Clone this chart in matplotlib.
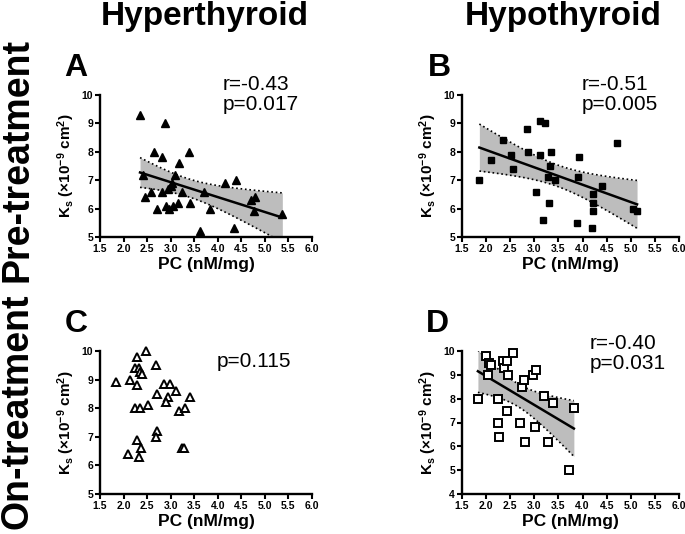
import numpy as np
import matplotlib
matplotlib.use("Agg")
import matplotlib.pyplot as plt

plt.rcParams['font.family'] = ['Liberation Sans', 'DejaVu Sans']
plt.rcParams['font.weight'] = 'bold'
plt.rcParams['mathtext.fontset'] = 'custom'
plt.rcParams['mathtext.rm'] = 'Liberation Sans:bold'
plt.rcParams['mathtext.bf'] = 'Liberation Sans:bold'
plt.rcParams['mathtext.default'] = 'rm'

# panel A: hyperthyroid, pre-treatment
a_pc = [2.35, 2.88, 2.65, 2.81, 3.38, 3.17, 2.42, 3.10, 2.46, 2.58, 2.72, 2.81,
        2.90, 2.95, 2.97, 3.00, 3.04, 3.02, 3.15, 3.24, 3.40, 3.70, 3.84, 3.63,
        4.16, 4.39, 4.34, 4.71, 4.79, 4.76, 5.37]
a_ks = [9.3, 9.0, 8.0, 7.8, 8.0, 7.6, 7.2, 7.2, 6.4, 6.6, 6.0, 6.6,
        6.1, 6.7, 6.0, 6.8, 6.1, 6.9, 6.2, 6.6, 6.2, 6.6, 6.0, 5.2,
        6.9, 7.0, 5.3, 6.3, 6.4, 5.9, 5.8]

# panel B: hypothyroid, pre-treatment
b_pc = [1.86, 2.11, 2.35, 2.51, 2.56, 2.85, 2.87, 3.04, 3.11, 3.11, 3.23, 3.28,
        3.31, 3.33, 3.35, 3.43, 3.19, 3.89, 3.92, 3.91, 4.21, 4.22, 4.22, 4.20,
        4.41, 4.71, 5.05, 5.13]
b_ks = [7.0, 7.7, 8.4, 7.9, 7.4, 8.8, 8.0, 6.6, 9.1, 7.9, 9.0, 7.1,
        6.2, 7.5, 8.0, 7.0, 5.6, 5.5, 7.8, 7.1, 6.5, 6.2, 5.9, 5.3,
        6.8, 8.3, 6.0, 5.9]

# panel C: hyperthyroid, on-treatment
c_pc = [1.84, 2.14, 2.28, 2.48, 2.25, 2.32, 2.35, 2.39, 2.28, 2.69, 2.25, 2.34,
        2.51, 2.72, 2.86, 2.99, 2.95, 2.90, 3.12, 3.17, 3.31, 3.41, 2.72, 2.68,
        2.28, 2.10, 2.38, 2.32, 3.25, 3.28]
c_ks = [8.9, 9.0, 9.8, 10.0, 9.4, 9.4, 9.25, 9.2, 8.8, 9.5, 8.0, 8.0,
        8.1, 8.5, 8.85, 8.85, 8.4, 8.2, 8.6, 7.9, 8.0, 8.4, 7.2, 7.0,
        6.9, 6.4, 6.6, 6.3, 6.6, 6.6]

# panel D: hypothyroid, on-treatment
d_pc = [1.83, 1.99, 2.05, 2.03, 2.10, 2.24, 2.24, 2.27, 2.34, 2.37, 2.44, 2.46,
        2.44, 2.56, 2.74, 2.78, 2.71, 2.81, 2.98, 3.04, 3.02, 3.21, 3.28, 3.39,
        3.72, 3.82]
d_ks = [8.0, 9.8, 9.5, 9.0, 9.4, 8.0, 7.0, 6.4, 9.6, 9.3, 9.6, 9.0,
        7.5, 9.9, 8.5, 8.8, 7.0, 6.2, 9.0, 9.2, 6.8, 8.1, 6.2, 7.8,
        5.0, 7.6]

W, H = 685, 534


def fx(px):
    return px / W


def fy(py):
    return 1 - py / H


def add_fit(ax, x, y):
    # least squares line with 95% confidence band of the mean
    x = np.array(x)
    y = np.array(y)
    n = len(x)
    slope, icpt = np.polyfit(x, y, 1)
    resid = y - (slope * x + icpt)
    s = np.sqrt(np.sum(resid ** 2) / (n - 2))
    t = 2.05
    xs = np.linspace(x.min(), x.max(), 100)
    ys = slope * xs + icpt
    se = s * np.sqrt(1 / n + (xs - x.mean()) ** 2 / np.sum((x - x.mean()) ** 2))
    ax.fill_between(xs, ys - t * se, ys + t * se, color='#bdbdbd', lw=0, zorder=1)
    ax.plot(xs, ys - t * se, color='black', ls=':', lw=1.2, zorder=2)
    ax.plot(xs, ys + t * se, color='black', ls=':', lw=1.2, zorder=2)
    ax.plot(xs, ys, color='black', lw=1.8, zorder=3)


def style(ax, ylo):
    ax.set_xlim(1.5, 6.0)
    ax.set_ylim(ylo, 10)
    ax.set_xticks(np.arange(1.5, 6.01, 0.5))
    ax.set_xticklabels(['%.1f' % v for v in np.arange(1.5, 6.01, 0.5)])
    ax.set_yticks(range(ylo, 11))
    for sp in ['top', 'right']:
        ax.spines[sp].set_visible(False)
    for sp in ['left', 'bottom']:
        ax.spines[sp].set_linewidth(1.7)
    ax.tick_params(width=1.5, length=3.5, labelsize=7.5, pad=1.5)
    ax.set_xlabel('PC (nM/mg)', fontsize=12.5, fontweight='bold', labelpad=2)
    ax.set_ylabel(r'K$_{s}$ (×10$^{-9}$ cm$^{2}$)', fontsize=11, fontweight='bold', labelpad=3)


fig = plt.figure(figsize=(W / 100, H / 100), dpi=100)

axA = fig.add_axes([fx(100), fy(237), fx(212), 142 / H])
axB = fig.add_axes([fx(462), fy(237), fx(217), 142 / H])
axC = fig.add_axes([fx(100), fy(494), fx(212), 143 / H])
axD = fig.add_axes([fx(462), fy(494), fx(217), 143 / H])

add_fit(axA, a_pc, a_ks)
axA.plot(a_pc, a_ks, '^', color='black', ms=6, zorder=4, clip_on=False)
style(axA, 5)

add_fit(axB, b_pc, b_ks)
axB.plot(b_pc, b_ks, 's', color='black', ms=5, zorder=4, clip_on=False)
style(axB, 5)

axC.plot(c_pc, c_ks, '^', mfc='white', mec='black', mew=1.4, ms=6, zorder=4, clip_on=False)
style(axC, 5)

add_fit(axD, d_pc, d_ks)
axD.plot(d_pc, d_ks, 's', mfc='white', mec='black', mew=1.4, ms=5.5, zorder=4, clip_on=False)
style(axD, 4)

fig.text(fx(205), fy(1), 'Hyperthyroid', fontsize=24, fontweight='bold', ha='center', va='top')
fig.text(fx(563), fy(1), 'Hypothyroid', fontsize=24, fontweight='bold', ha='center', va='top')
fig.text(fx(18), fy(160), 'Pre-treatment', fontsize=27, fontweight='bold', rotation=90,
         ha='center', va='center')
fig.text(fx(18), fy(411), 'On-treatment', fontsize=27, fontweight='bold', rotation=90,
         ha='center', va='center')

for lab, x, y in [('A', 64, 76), ('B', 428, 76), ('C', 65, 332), ('D', 426, 332)]:
    fig.text(fx(x), fy(y), lab, fontsize=23, fontweight='bold', ha='left', va='baseline')

stats = [('r=-0.43', 223, 90), ('p=0.017', 223, 110),
         ('r=-0.51', 582, 90), ('p=0.005', 582, 110),
         ('p=0.115', 217, 367),
         ('r=-0.40', 590, 349), ('p=0.031', 590, 369)]
for s, x, y in stats:
    fig.text(fx(x), fy(y), s, fontsize=15, fontweight='normal', ha='left', va='baseline')

fig.savefig('out.png', dpi=100)
